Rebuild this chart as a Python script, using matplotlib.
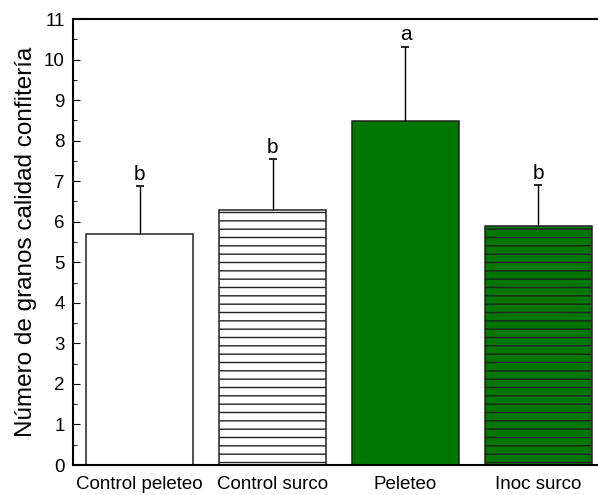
import matplotlib.pyplot as plt
from matplotlib.ticker import MultipleLocator

# Granos calidad confitería por tratamiento
tratamientos = ['Control peleteo', 'Control surco', 'Peleteo', 'Inoc surco']
medias = [5.7, 6.3, 8.48, 5.9]
errores = [1.18, 1.24, 1.84, 1.01]
letras = ['b', 'b', 'a', 'b']

colores = ['white', 'white', '#007700', '#007700']
tramas = ['', '--', '', '--']

plt.rcParams['font.family'] = ['Liberation Sans', 'DejaVu Sans']
plt.rcParams['hatch.linewidth'] = 1.0

fig = plt.figure(figsize=(5.98, 4.95), dpi=100)
ax = fig.add_axes([73 / 598, 30 / 495, 532 / 598, 446 / 495])

x = range(len(tratamientos))
barras = ax.bar(x, medias, width=0.8, color=colores, edgecolor='#222222',
                linewidth=1.1, zorder=2)
for b, t in zip(barras, tramas):
    b.set_hatch(t)

# solo la barra de error superior, sin tope sobre la barra
_, topes, lineas = ax.errorbar(x, medias, yerr=[[0] * len(medias), errores],
                               fmt='none', ecolor='black', elinewidth=1,
                               capsize=3, capthick=1.2, zorder=3)
topes[0].set_visible(False)
topes[1].set_color('#555555')

for xi, m, e, l in zip(x, medias, errores, letras):
    ax.text(xi, m + e + 0.15, l, ha='center', va='baseline', fontsize=15)

ax.set_xlim(-0.5, 3.5)
ax.set_ylim(0, 11)
ax.yaxis.set_major_locator(MultipleLocator(1))
ax.yaxis.set_minor_locator(MultipleLocator(0.5))
ax.set_xticks(list(x))
ax.set_xticklabels(tratamientos, fontsize=13.5)
ax.tick_params(axis='y', which='major', direction='in', length=5,
               labelsize=13.5, pad=6)
ax.tick_params(axis='y', which='minor', direction='in', length=3)
ax.tick_params(axis='x', length=0, pad=8)

for s in ax.spines.values():
    s.set_linewidth(1.5)
ax.spines['right'].set_visible(False)

ax.set_ylabel('Número de granos calidad confitería', fontsize=17.5, labelpad=5)

plt.savefig('out.png', dpi=100)
